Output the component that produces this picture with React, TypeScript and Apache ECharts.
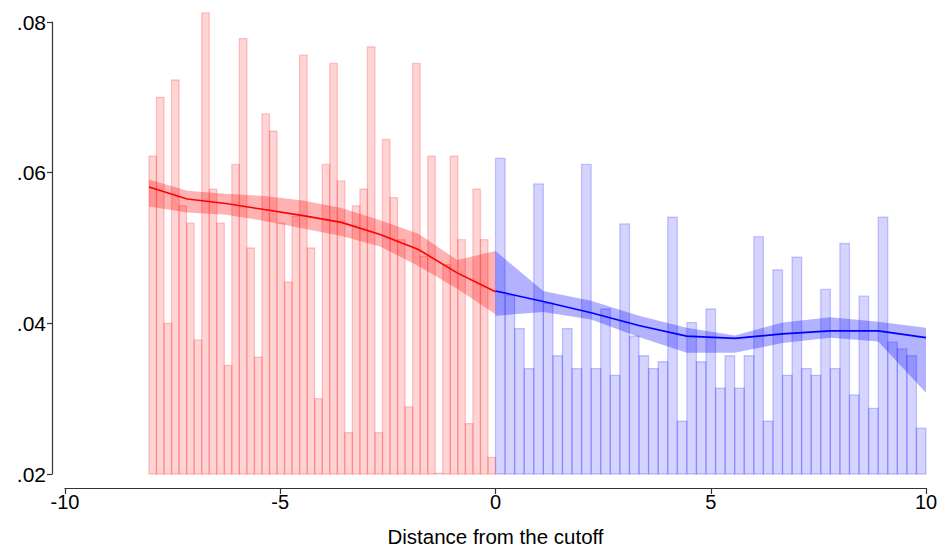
import React, { useEffect, useRef } from "react";
import * as echarts from "echarts";

// Histogram bins, left of cutoff
const redBinStart = -8.05;
const redBinWidth = 0.175;
const redShares = [
  0.0622, 0.07, 0.04, 0.0723, 0.0556, 0.0533, 0.0378, 0.0812, 0.0578, 0.0533,
  0.0344, 0.0611, 0.0778, 0.05, 0.0355, 0.0678, 0.0655, 0.0533, 0.0455, 0.0542,
  0.0756, 0.05, 0.03, 0.0611, 0.0745, 0.0589, 0.0255, 0.0556, 0.0578, 0.0767,
  0.0255, 0.0644, 0.0567, 0.0511, 0.0289, 0.0745, 0.0489, 0.0622, 0.0201, 0.0478,
  0.0622, 0.0511, 0.0267, 0.0578, 0.0511, 0.0222,
];

// Histogram bins, right of cutoff
const blueBinStart = 0;
const blueBinWidth = 10 / 45;
const blueShares = [
  0.0619, 0.0437, 0.0393, 0.034, 0.0585, 0.0427, 0.0357, 0.0393, 0.034, 0.0611,
  0.034, 0.0419, 0.0331, 0.0532, 0.0383, 0.0357, 0.034, 0.0349, 0.0541, 0.027,
  0.0401, 0.0349, 0.0419, 0.0314, 0.0357, 0.0314, 0.0357, 0.0515, 0.027, 0.0471,
  0.0331, 0.0488, 0.034, 0.0331, 0.0445, 0.034, 0.0506, 0.0305, 0.0436, 0.0287,
  0.0541, 0.0375, 0.0366, 0.0357, 0.0261,
];

// Fitted lines and confidence bands
const redFitX = [-8.05, -7.16, -6.26, -5.37, -4.47, -3.58, -2.68, -1.79, -0.89, 0];
const redFit = [0.0581, 0.0565, 0.0559, 0.0551, 0.0543, 0.0534, 0.0518, 0.0498, 0.0467, 0.0442];
const redUpper = [0.0591, 0.0576, 0.0572, 0.0569, 0.0563, 0.0553, 0.0537, 0.0519, 0.0484, 0.0496];
const redLower = [0.0555, 0.0547, 0.0544, 0.0536, 0.0526, 0.0516, 0.0502, 0.0476, 0.0446, 0.0412];

const blueFitX = [0, 1.11, 2.22, 3.33, 4.44, 5.56, 6.67, 7.78, 8.89, 10];
const blueFit = [0.0443, 0.0429, 0.0414, 0.0397, 0.0383, 0.038, 0.0386, 0.039, 0.039, 0.0381];
const blueUpper = [0.0496, 0.0443, 0.043, 0.041, 0.0394, 0.0384, 0.0401, 0.0408, 0.0402, 0.0394];
const blueLower = [0.041, 0.0415, 0.0405, 0.0382, 0.0361, 0.0361, 0.0374, 0.0381, 0.0376, 0.0308];

const yTicks = [0.02, 0.04, 0.06, 0.08];
const xTicks = [-10, -5, 0, 5, 10];

const FONT = "'Liberation Sans', Arial, Helvetica, sans-serif";

function binData(start: number, width: number, vals: number[]) {
  return vals.map((v, i) => [start + i * width, start + (i + 1) * width, v]);
}

function barSeries(data: number[][], fill: string, stroke: string) {
  return {
    type: "custom",
    data,
    encode: { x: [0, 1], y: 2 },
    z: 1,
    renderItem: (params: any, api: any) => {
      const p0 = api.coord([api.value(0), api.value(2)]);
      const p1 = api.coord([api.value(1), yTicks[0]]);
      return {
        type: "rect",
        shape: { x: p0[0], y: p0[1], width: p1[0] - p0[0], height: p1[1] - p0[1] },
        style: { fill, stroke, lineWidth: 1.3 },
      };
    },
  };
}

function bandSeries(xs: number[], up: number[], lo: number[], fill: string) {
  return {
    type: "custom",
    data: [[xs[0], up[0]]],
    z: 3,
    renderItem: (params: any, api: any) => {
      const pts: number[][] = [];
      xs.forEach((x, i) => pts.push(api.coord([x, up[i]])));
      for (let i = xs.length - 1; i >= 0; i--) pts.push(api.coord([xs[i], lo[i]]));
      return { type: "polygon", shape: { points: pts }, style: { fill } };
    },
  };
}

function lineSeries(xs: number[], ys: number[], color: string) {
  return {
    type: "line",
    data: xs.map((x, i) => [x, ys[i]]),
    symbol: "none",
    z: 4,
    lineStyle: { color, width: 1.6 },
  };
}

export default function App() {
  const ref = useRef<HTMLDivElement>(null);
  useEffect(() => {
    if (!ref.current) return;
    const chart = echarts.init(ref.current, undefined, { renderer: "svg" });
    chart.setOption({
      animation: false,
      backgroundColor: "#ffffff",
      grid: { left: 65, right: 11, top: 22, bottom: 73, containLabel: false, outerBoundsMode: "none" },
      xAxis: {
        type: "value",
        min: xTicks[0],
        max: xTicks[xTicks.length - 1],
        interval: 5,
        offset: 14,
        splitLine: { show: false },
        axisLine: { show: true, onZero: false, lineStyle: { color: "#333", width: 1.2 } },
        axisTick: { show: true, length: 6, lineStyle: { color: "#333", width: 1.2 } },
        axisLabel: { color: "#000", fontSize: 20, fontFamily: FONT, margin: 4 },
        name: "Distance from the cutoff",
        nameLocation: "middle",
        nameGap: 38,
        nameTextStyle: { color: "#000", fontSize: 20.5, fontFamily: FONT },
      },
      yAxis: {
        type: "value",
        min: yTicks[0],
        max: yTicks[yTicks.length - 1],
        interval: 0.02,
        offset: 13,
        splitLine: { show: false },
        axisLine: { show: true, onZero: false, lineStyle: { color: "#333", width: 1.2 } },
        axisTick: { show: true, length: 5, lineStyle: { color: "#333", width: 1.2 } },
        axisLabel: {
          color: "#000",
          fontSize: 21,
          fontFamily: FONT,
          margin: 6,
          formatter: (v: number) => v.toFixed(2).replace(/^0/, ""),
        },
      },
      series: [
        barSeries(binData(redBinStart, redBinWidth, redShares), "rgba(255,0,0,0.17)", "rgba(255,0,0,0.2)"),
        barSeries(binData(blueBinStart, blueBinWidth, blueShares), "rgba(0,0,255,0.17)", "rgba(0,0,255,0.2)"),
        bandSeries(redFitX, redUpper, redLower, "rgba(255,0,0,0.3)"),
        bandSeries(blueFitX, blueUpper, blueLower, "rgba(0,0,255,0.3)"),
        lineSeries(redFitX, redFit, "#ff0000"),
        lineSeries(blueFitX, blueFit, "#0000ff"),
      ],
    });
    return () => chart.dispose();
  }, []);
  return (
    <div
      ref={ref}
      style={{ position: "fixed", left: 0, top: 0, width: 937, height: 547, background: "#fff" }}
    />
  );
}
